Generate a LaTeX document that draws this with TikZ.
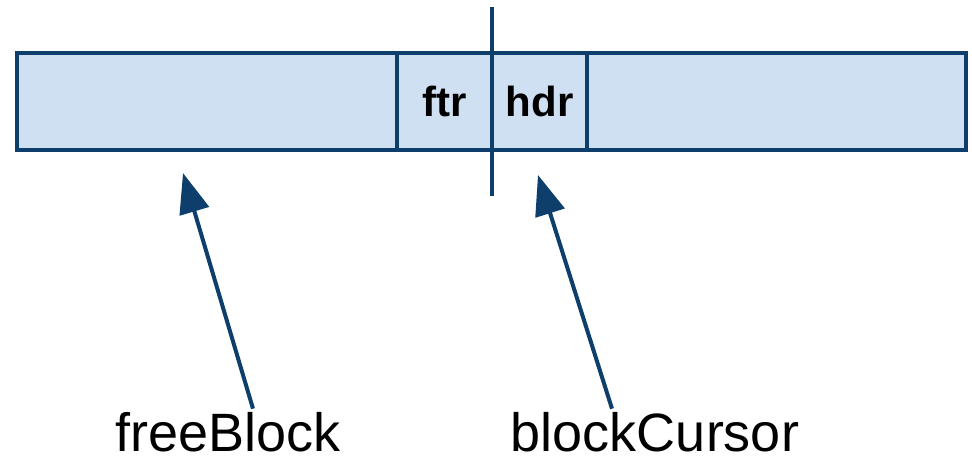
\documentclass[tikz,border=0pt]{standalone}
\usepackage{fontspec}
\setmainfont{Liberation Sans}
\usetikzlibrary{positioning,arrows.meta}
\definecolor{edgeblue}{HTML}{0E3F6C}
\definecolor{cellblue}{HTML}{CFE0F2}

\begin{document}
\begin{tikzpicture}[x=1pt, y=-1pt, node distance=0pt,
    cell/.style = {rectangle, draw=edgeblue, fill=cellblue, line width=4.5pt, outer sep=0pt, inner sep=0pt, minimum height=97pt, font=\fontsize{42}{48}\selectfont\bfseries},
    ptr/.style = {draw=edgeblue, line width=4pt, -{Triangle[length=40pt, width=30pt]}},
    lbl/.style = {inner sep=0pt, anchor=base, font=\fontsize{54}{60}\selectfont}]
    \useasboundingbox (0,0) rectangle (972,457);
    % the block list
    \node[cell, minimum width=380pt] (free) at (207,101.5) {};
    \node[cell, minimum width=95pt, right=of free] (ftr) {ftr};
    \node[cell, minimum width=95pt, right=of ftr] (hdr) {hdr};
    \node[cell, minimum width=379pt, right=of hdr] (rest) {};
    % cursor line between ftr and hdr
    \coordinate (curtop) at ([yshift=46pt]ftr.north east);
    \coordinate (curbot) at ([yshift=-46pt]ftr.south east);
    \draw[edgeblue, line width=4pt] (curtop) -- (curbot);
    % pointers
    \node[lbl] (freeblk) at (228,451) {freeBlock};
    \node[lbl] (cursor) at (655,451) {blockCursor};
    \draw[ptr] ([xshift=25pt, yshift=3pt]freeblk.north) -- ([xshift=-24pt, yshift=-23pt]free.south);
    \draw[ptr] ([xshift=-43pt, yshift=3pt]cursor.north) -- ([xshift=-1.5pt, yshift=-25pt]hdr.south);
\end{tikzpicture}
\end{document}
